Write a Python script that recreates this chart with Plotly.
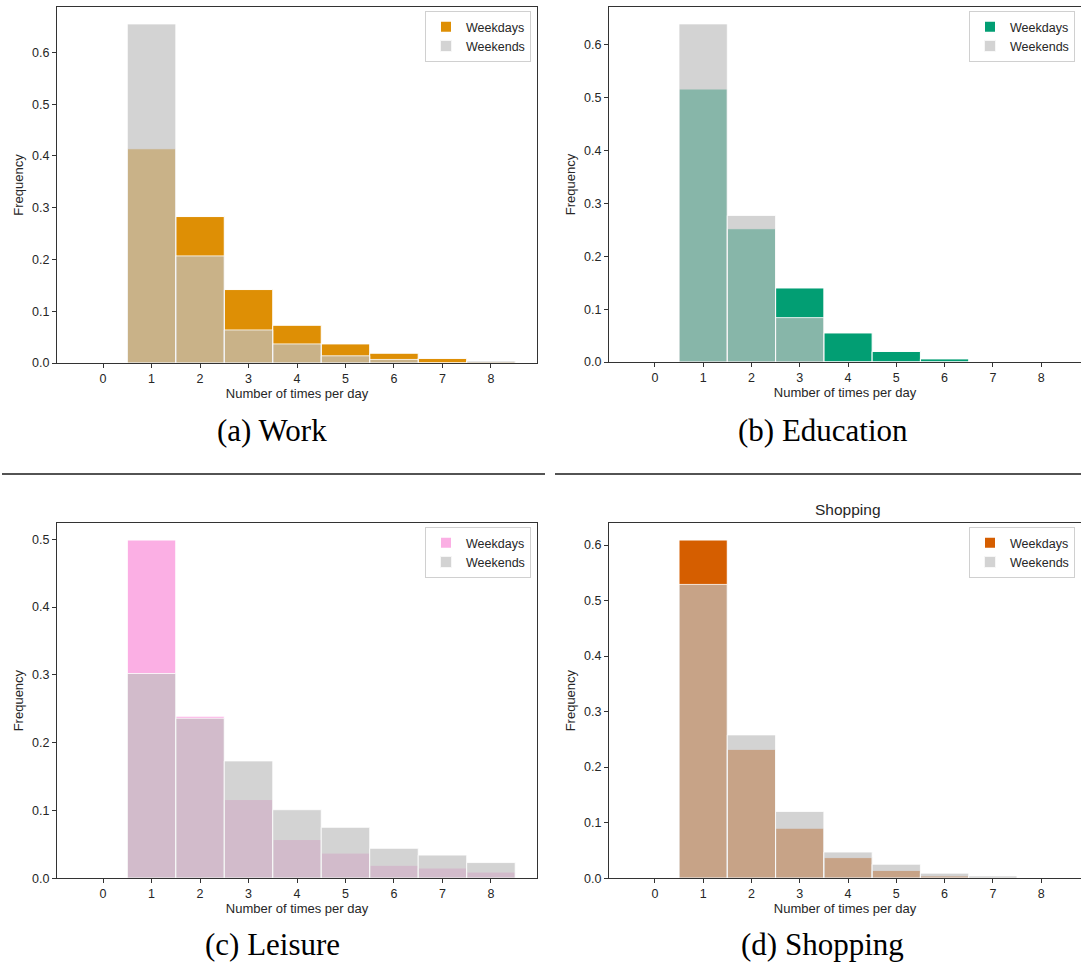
import plotly.graph_objects as go

# ---------------- data ----------------
categories = [0, 1, 2, 3, 4, 5, 6, 7, 8]
tick_labels = ["0", "1", "2", "3", "4", "5", "6", "7", "8"]

work_weekdays = [0, 0.414, 0.283, 0.142, 0.073, 0.037, 0.019, 0.009, 0.003]
work_weekends = [0, 0.655, 0.207, 0.064, 0.037, 0.014, 0.007, 0.0, 0.004]

edu_weekdays = [0, 0.516, 0.252, 0.140, 0.055, 0.020, 0.006, 0, 0]
edu_weekends = [0, 0.639, 0.277, 0.084, 0, 0, 0, 0, 0]

leisure_weekdays = [0, 0.499, 0.239, 0.116, 0.057, 0.037, 0.019, 0.015, 0.009]
leisure_weekends = [0, 0.302, 0.236, 0.173, 0.101, 0.075, 0.044, 0.034, 0.023]

shop_weekdays = [0, 0.609, 0.232, 0.090, 0.037, 0.014, 0.004, 0.001, 0]
shop_weekends = [0, 0.529, 0.258, 0.120, 0.047, 0.025, 0.009, 0.004, 0]

panels = [
    dict(wd=work_weekdays, we=work_weekends, color="#DE8F05", caption="(a) Work", title=None),
    dict(wd=edu_weekdays, we=edu_weekends, color="#029E73", caption="(b) Education", title=None),
    dict(wd=leisure_weekdays, we=leisure_weekends, color="#FBAFE4", caption="(c) Leisure", title=None),
    dict(wd=shop_weekdays, we=shop_weekends, color="#D55E00", caption="(d) Shopping", title="Shopping"),
]

W, H = 1081, 963
KY = 1.0075  # small vertical stretch of the measured positions


def fx(px):
    return min(max(px / W, 0.0), 1.0)


def fy(py):
    return min(max(1 - (py * KY) / H, 0.0), 1.0)


# axes boxes in pixels: (left, right, top, bottom); right-hand panels run past the page edge
boxes = [(57, 537, 7.0, 363), (609, 1087, 7.0, 362), (57, 537, 523, 878), (609, 1087, 523, 878)]
caption_pos = [(272, 430), (823, 430), (272, 944), (822, 944)]
legend_box = [(531, 11, "right"), (969, 11, "left"), (531, 527, "right"), (969, 527, "left")]
XMIN, XMAX = -0.95, 8.95

WEEKEND_COLOR = "rgba(192,192,192,0.7)"
SPINE = "#333333"
TXT = "#262626"
FONT = "Liberation Sans, Arial, sans-serif"

fig = go.Figure()
layout = dict(
    width=W, height=H, margin=dict(l=0, r=0, t=0, b=0),
    paper_bgcolor="white", plot_bgcolor="white",
    barmode="overlay", showlegend=True,
    font=dict(family=FONT, color=TXT, size=12),
)
annotations = []
shapes = []

for i, p in enumerate(panels):
    n = i + 1
    xa = "x" if n == 1 else f"x{n}"
    ya = "y" if n == 1 else f"y{n}"
    lg = "legend" if n == 1 else f"legend{n}"
    l, r, t, b = boxes[i]
    ymax = max(max(p["wd"]), max(p["we"])) * 1.05
    clipped = r > W
    r_vis = min(r, W)
    xmax = XMIN + (XMAX - XMIN) * (r_vis - l) / (r - l)

    fig.add_trace(go.Bar(
        x=categories, y=p["wd"], width=1.0, name="Weekdays",
        marker=dict(color=p["color"], line=dict(color="white", width=1)),
        xaxis=xa, yaxis=ya, legend=lg, hoverinfo="x+y",
    ))
    fig.add_trace(go.Bar(
        x=categories, y=p["we"], width=1.0, name="Weekends",
        marker=dict(color=WEEKEND_COLOR, line=dict(color="rgba(255,255,255,0.8)", width=1)),
        xaxis=xa, yaxis=ya, legend=lg, hoverinfo="x+y",
    ))

    layout["xaxis" if n == 1 else f"xaxis{n}"] = dict(
        domain=[fx(l), fx(r_vis)], anchor=ya, range=[XMIN, xmax],
        tickmode="array", tickvals=categories, ticktext=tick_labels,
        ticks="outside", ticklen=4, tickwidth=1, tickcolor=SPINE,
        showline=True, linecolor=SPINE, linewidth=1.2, mirror=True,
        showgrid=False, zeroline=False,
        tickfont=dict(size=12.5, color=TXT, family=FONT),
        title=dict(text="Number of times per day", font=dict(size=13, color=TXT, family=FONT), standoff=3),
    )
    layout["yaxis" if n == 1 else f"yaxis{n}"] = dict(
        domain=[fy(b), fy(t)], anchor=xa, range=[0, ymax],
        tick0=0, dtick=0.1, tickformat=".1f",
        ticks="outside", ticklen=4, tickwidth=1, tickcolor=SPINE,
        showline=True, linecolor=SPINE, linewidth=1.2, mirror=not clipped,
        showgrid=False, zeroline=False,
        tickfont=dict(size=12.5, color=TXT, family=FONT),
        title=dict(text="Frequency", font=dict(size=13, color=TXT, family=FONT), standoff=5),
    )

    # legend (upper right of each axes)
    lx, ly, anchor = legend_box[i]
    layout[lg] = dict(
        bgcolor="white", bordercolor="#d0d0d0", borderwidth=1,
        font=dict(size=12.5, color=TXT, family=FONT),
        xanchor=anchor, x=fx(lx), yanchor="top", y=fy(ly),
        tracegroupgap=0, itemsizing="constant",
    )

    # sub-figure caption
    cx, cy = caption_pos[i]
    annotations.append(dict(
        text=p["caption"], xref="paper", yref="paper", x=fx(cx), y=fy(cy),
        xanchor="center", yanchor="middle", showarrow=False,
        font=dict(family="Liberation Serif, Times New Roman, serif", size=31, color="black"),
    ))
    if p["title"]:
        annotations.append(dict(
            text=p["title"], xref="paper", yref="paper", x=((l + r) / 2) / W, y=fy(509),
            xanchor="center", yanchor="middle", showarrow=False,
            font=dict(family=FONT, size=15.5, color=TXT),
        ))

# horizontal rules separating the two rows of sub-figures
for x0, x1 in [(2, 545), (555, 1081)]:
    shapes.append(dict(type="line", xref="paper", yref="paper",
                       x0=fx(x0), x1=fx(x1), y0=fy(474), y1=fy(474),
                       line=dict(color="#1a1a1a", width=1.5)))

layout["annotations"] = annotations
layout["shapes"] = shapes
fig.update_layout(**layout)
fig.write_html(
    "out.html",
    config={"displayModeBar": False},
    post_script="document.body.style.margin='0';document.documentElement.style.overflow='hidden';",
)
